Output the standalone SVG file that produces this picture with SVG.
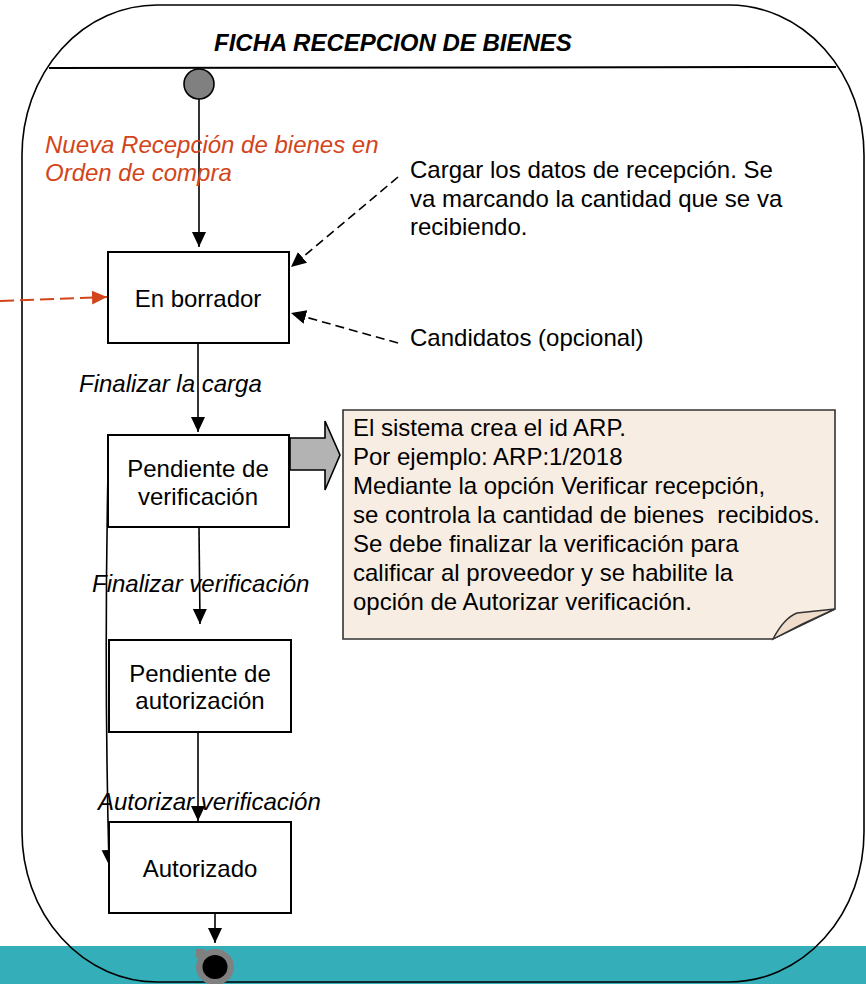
<svg xmlns="http://www.w3.org/2000/svg" width="866" height="984" viewBox="0 0 866 984">
<style>
.t{font-family:"Liberation Sans",Arial,sans-serif;font-size:24px;fill:#000}
.c{text-anchor:middle}
.i{font-style:italic}
.box{fill:#fff;stroke:#000;stroke-width:2}
.ln{fill:none;stroke:#000;stroke-width:1.6}
.dash{fill:none;stroke:#000;stroke-width:1.6;stroke-dasharray:9 5}
</style>
<defs>
<marker id="ah" markerUnits="userSpaceOnUse" markerWidth="17" markerHeight="15" refX="15" refY="7" orient="auto"><path d="M0,0 L15,7 L0,14 Z" fill="#000"/></marker>
<marker id="ao" markerUnits="userSpaceOnUse" markerWidth="17" markerHeight="15" refX="15" refY="7" orient="auto"><path d="M0,0 L15,7 L0,14 Z" fill="#D2451A"/></marker>
</defs>
<rect x="0" y="946" width="866" height="38" fill="#34AFB9"/>
<g id="frame">
<path d="M157,5 H729 A135,150 0 0 1 864,155 V832 A135,150 0 0 1 729,982 H157 A135,150 0 0 1 22,832 V155 A135,150 0 0 1 157,5 Z" fill="none" stroke="#000" stroke-width="1.6"/>
<line x1="49" y1="68" x2="836" y2="67" stroke="#000" stroke-width="2"/>
<text class="t" x="214" y="51" font-weight="bold" font-style="italic">FICHA RECEPCION DE BIENES</text>
</g>
<g id="connectors">
<path class="ln" d="M199,99 L199,247" marker-end="url(#ah)"/>
<path class="ln" d="M198,343 L198,432" marker-end="url(#ah)"/>
<path class="ln" d="M199,527 L200,624" marker-end="url(#ah)"/>
<path class="ln" d="M198,732 L198,821" marker-end="url(#ah)"/>
<path class="ln" d="M215,913 L215,943" marker-end="url(#ah)"/>
<path class="ln" d="M108,472 Q104,670 109,865" marker-end="url(#ah)"/>
<path d="M0,301 L107,297" fill="none" stroke="#D2451A" stroke-width="2" stroke-dasharray="14 6" marker-end="url(#ao)"/>
<path class="dash" d="M398,177 L291,267" marker-end="url(#ah)"/>
<path class="dash" d="M398,343 L291,313" marker-end="url(#ah)"/>
<path d="M290,438 H325 V421 L340,455 L325,490 V470 H290 Z" fill="#B3B3B3" stroke="#000" stroke-width="1.6"/>
</g>
<g id="start">
<ellipse cx="199" cy="84" rx="15" ry="15" fill="#808080" stroke="#000" stroke-width="1.6"/>
</g>
<g id="trigger-label">
<text class="t i" x="45" y="153" style="fill:#D2451A">Nueva Recepción de bienes en</text>
<text class="t i" x="45" y="181" style="fill:#D2451A">Orden de compra</text>
</g>
<g id="note-cargar">
<text class="t" x="410" y="178">Cargar los datos de recepción. Se</text>
<text class="t" x="410" y="207">va marcando la cantidad que se va</text>
<text class="t" x="410" y="235">recibiendo.</text>
</g>
<g id="note-candidatos">
<text class="t" x="410" y="346">Candidatos (opcional)</text>
</g>
<g id="en-borrador">
<rect class="box" x="108" y="252" width="181" height="91"/>
<text class="t c" x="198" y="307">En borrador</text>
</g>
<g id="label-finalizar-carga">
<text class="t i" x="79" y="392">Finalizar la carga</text>
</g>
<g id="pendiente-verificacion">
<rect class="box" x="108" y="435" width="181" height="92"/>
<text class="t c" x="198" y="477">Pendiente de</text>
<text class="t c" x="198" y="505">verificación</text>
</g>
<g id="note-arp">
<path d="M343,410 H835 V609 L773,639 H343 Z" fill="#F8EDE3" stroke="#333" stroke-width="1.6"/>
<path d="M773,639 Q784,618 797,613 L835,609 Q803,623 773,639 Z" fill="#EFDCCB" stroke="#333" stroke-width="1.4"/>
<text class="t" x="353" y="436">El sistema crea el id ARP.</text>
<text class="t" x="353" y="465">Por ejemplo: ARP:1/2018</text>
<text class="t" x="353" y="494">Mediante la opción Verificar recepción,</text>
<text class="t" x="353" y="523" xml:space="preserve">se controla la cantidad de bienes  recibidos.</text>
<text class="t" x="353" y="552">Se debe finalizar la verificación para</text>
<text class="t" x="353" y="581">calificar al proveedor y se habilite la</text>
<text class="t" x="353" y="610">opción de Autorizar verificación.</text>
</g>
<g id="label-finalizar-verificacion">
<text class="t i" x="92" y="592">Finalizar verificación</text>
</g>
<g id="pendiente-autorizacion">
<rect class="box" x="109" y="640" width="182" height="92"/>
<text class="t c" x="200" y="682">Pendiente de</text>
<text class="t c" x="200" y="709">autorización</text>
</g>
<g id="label-autorizar">
<text class="t i" x="98" y="810">Autorizar verificación</text>
</g>
<g id="autorizado">
<rect class="box" x="109" y="822" width="182" height="91"/>
<text class="t c" x="200" y="877">Autorizado</text>
</g>
<g id="end">
<rect x="196" y="949" width="9" height="9" fill="#808080"/>
<ellipse cx="215" cy="967" rx="19" ry="18" fill="#808080"/>
<ellipse cx="215" cy="967" rx="12.5" ry="12" fill="#000"/>
</g>
</svg>
